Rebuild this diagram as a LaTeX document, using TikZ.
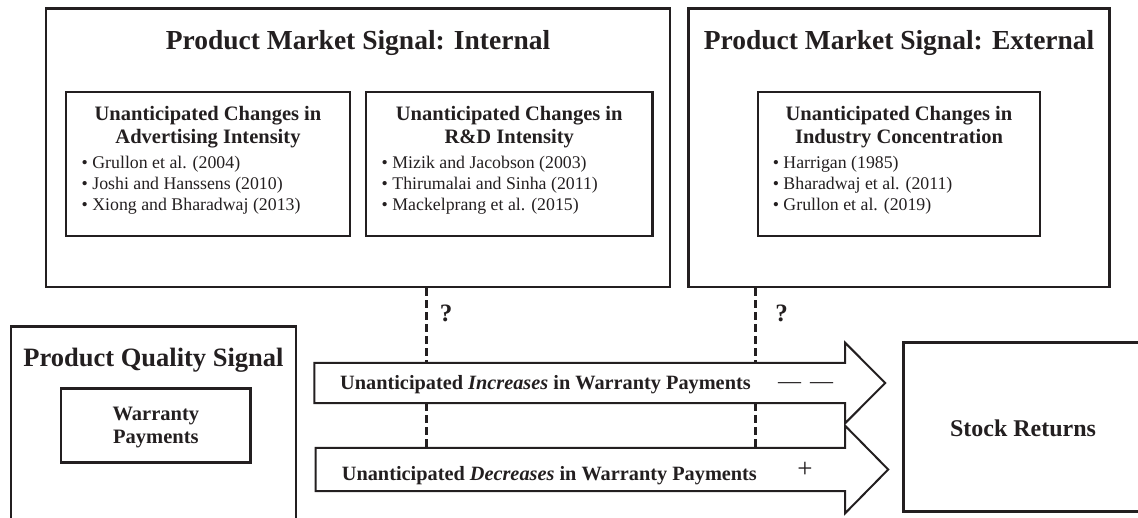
\documentclass[tikz,border=0pt]{standalone}
\usepackage{fontspec}
\setmainfont{Liberation Serif}
\usetikzlibrary{calc}
\definecolor{ink}{RGB}{35,31,32}
\begin{document}
\begin{tikzpicture}[x=1pt,y=-1pt,
  box/.style={draw=ink, line width=2.8pt, inner sep=0pt, rectangle},
  inbox/.style={draw=ink, line width=2.5pt, inner sep=0pt, rectangle},
  big/.style={font=\fontsize{27.5}{33}\selectfont\bfseries, text=ink, inner sep=0pt},
  sub/.style={font=\fontsize{20.5}{23}\selectfont\bfseries, text=ink, inner sep=0pt, align=center},
  refs/.style={font=\fontsize{17.8}{21}\selectfont, text=ink, inner sep=0pt, align=left},
  arrowtxt/.style={font=\fontsize{20.3}{24}\selectfont\bfseries, text=ink, inner sep=0pt},
  signtxt/.style={font=\fontsize{23}{26}\selectfont, text=ink, inner sep=0pt},
  qtxt/.style={font=\fontsize{25}{28}\selectfont\bfseries, text=ink, inner sep=0pt},
  blockarrow/.style={draw=ink, line width=2pt, fill=white, line join=miter},
  dashline/.style={draw=ink, line width=3pt, dash pattern=on 8pt off 4pt},
  body/.style={inner sep=0pt, rectangle}
]
\useasboundingbox (0,0) rectangle (1138,518);
\clip (0,0) rectangle (1138,518);

% ---- top: internal ----
\node[box, minimum width=624pt, minimum height=278.7pt] (internal) at (358,147.65) {};
\node[big, anchor=base] (inttitle) at (358,50) {Product Market Signal: Internal};
\node[inbox, minimum width=284pt, minimum height=144pt] (adv) at (208,164) {};
\node[sub, anchor=base] (advtitle) at (208,143.5) {Unanticipated Changes in\\Advertising Intensity};
\node[refs, anchor=base west] (advrefs) at (81.5,210.3) {\textbullet\ Grullon et al. (2004)\\\textbullet\ Joshi and Hanssens (2010)\\\textbullet\ Xiong and Bharadwaj (2013)};
\node[inbox, minimum width=286.5pt, minimum height=144pt] (rnd) at (509.25,164) {};
\node[sub, anchor=base] (rndtitle) at (509.25,143.5) {Unanticipated Changes in\\R\&D Intensity};
\node[refs, anchor=base west] (rndrefs) at (381.5,210.3) {\textbullet\ Mizik and Jacobson (2003)\\\textbullet\ Thirumalai and Sinha (2011)\\\textbullet\ Mackelprang et al. (2015)};

% ---- top: external ----
\node[box, minimum width=421.1pt, minimum height=278.7pt] (external) at (899.05,147.65) {};
\node[big, anchor=base] (exttitle) at (899.05,50) {Product Market Signal: External};
\node[inbox, minimum width=282pt, minimum height=144pt] (ind) at (899,164) {};
\node[sub, anchor=base] (indtitle) at (899,143.5) {Unanticipated Changes in\\Industry Concentration};
\node[refs, anchor=base west] (indrefs) at (772.6,210.3) {\textbullet\ Harrigan (1985)\\\textbullet\ Bharadwaj et al. (2011)\\\textbullet\ Grullon et al. (2019)};

% ---- bottom left: quality ----
\node[box, minimum width=285pt, minimum height=220pt] (quality) at (153.5,436.7) {};
\node[big, font=\fontsize{26.5}{30}\selectfont\bfseries, anchor=base] (qualtitle) at (153.5,366.7) {Product Quality Signal};
\node[inbox, minimum width=189.7pt, minimum height=74pt] (warr) at (155.85,425.3) {};
\node[sub, anchor=base] (warrtxt) at (155.85,443) {Warranty\\Payments};

% ---- stock returns ----
\node[box, minimum width=238.6pt, minimum height=169pt] (stock) at (1023,427.2) {};
\node[big, font=\fontsize{24}{28}\selectfont\bfseries, anchor=base] (stocktxt) at (1023,436.7) {Stock Returns};

% ---- block arrows ----
\node[body, minimum width=530.4pt, minimum height=40pt] (inc) at (579.8,383) {};
\node[body, minimum width=529.3pt, minimum height=43pt] (dec) at (580.35,469.5) {};
\draw[blockarrow] (dec.north west) -- (dec.north east) -- ++(0,-22) -- ($(dec.east)+(43,0)$) -- ($(dec.south east)+(0,22)$) -- (dec.south east) -- (dec.south west) -- cycle;
\draw[blockarrow] (inc.north west) -- (inc.north east) -- ++(0,-20) -- ($(inc.east)+(40,0)$) -- ($(inc.south east)+(0,20)$) -- (inc.south east) -- (inc.south west) -- cycle;

\node[arrowtxt, anchor=base west] (inctext) at (340,390) {Unanticipated \textit{Increases} in Warranty Payments};
\node[signtxt, anchor=base] (incsign) at (805.5,389) {\textemdash\hspace{9pt}\textemdash};
\node[arrowtxt, anchor=base west] (dectext) at (341.7,480) {Unanticipated \textit{Decreases} in Warranty Payments};
\node[signtxt, font=\fontsize{27}{30}\selectfont, anchor=base] (decsign) at (805,477) {+};

% ---- dashed moderation lines ----
\coordinate (d1) at (426,0);
\coordinate (d2) at (755,0);
\draw[dashline] (internal.south -| d1) -- (inc.north -| d1);
\draw[dashline] (inc.south -| d1) -- (dec.north -| d1);
\draw[dashline] (external.south -| d2) -- (inc.north -| d2);
\draw[dashline] (inc.south -| d2) -- (dec.north -| d2);
\node[qtxt, anchor=base] (q1) at (446,322) {?};
\node[qtxt, anchor=base] (q2) at (781.5,322) {?};
\end{tikzpicture}
\end{document}
